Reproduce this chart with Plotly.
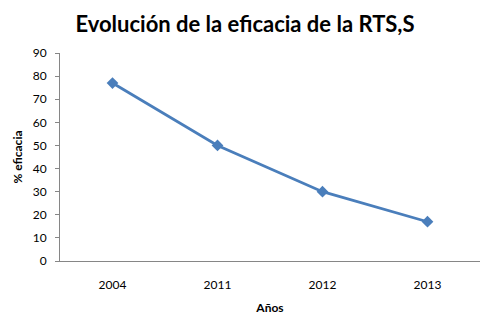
import plotly.graph_objects as go

years = ["2004", "2011", "2012", "2013"]
efficacy = [77, 50, 30, 17]
y_ticks = [0, 10, 20, 30, 40, 50, 60, 70, 80, 90]

font_family = "Lato, 'Open Sans', sans-serif"
axis_grey = "#868686"

fig = go.Figure(
    go.Scatter(
        x=years,
        y=efficacy,
        mode="lines+markers",
        line=dict(color="#4A7EBB", width=2.75),
        marker=dict(symbol="diamond", size=9, color="#4A7EBB"),
        showlegend=False,
    )
)

fig.update_layout(
    width=482,
    height=322,
    margin=dict(l=60, r=1.5, t=53, b=61),
    paper_bgcolor="white",
    plot_bgcolor="white",
    font=dict(family=font_family, color="black", size=12),
    title=dict(
        text="<b>Evolución de la eficacia de la RTS,S</b>",
        x=245 / 482,
        xanchor="center",
        y=1 - 24 / 322,
        yanchor="middle",
        font=dict(size=22, family=font_family, color="black"),
    ),
    xaxis=dict(
        type="category",
        range=[-0.5, 3.5],
        showline=True,
        linecolor=axis_grey,
        linewidth=1,
        showgrid=False,
        ticks="",
        ticklabelstandoff=13,
        tickfont=dict(size=12),
        title=dict(text="<b>Años</b>", font=dict(size=12), standoff=12),
        zeroline=False,
    ),
    yaxis=dict(
        range=[0, 90],
        tickvals=y_ticks,
        showline=True,
        linecolor=axis_grey,
        linewidth=1,
        showgrid=False,
        ticks="outside",
        ticklen=4,
        tickcolor=axis_grey,
        ticklabelstandoff=6,
        tickfont=dict(size=12),
        title=dict(text="<b>% eficacia</b>", font=dict(size=12), standoff=7),
        zeroline=False,
    ),
)

fig.write_html("out.html")
